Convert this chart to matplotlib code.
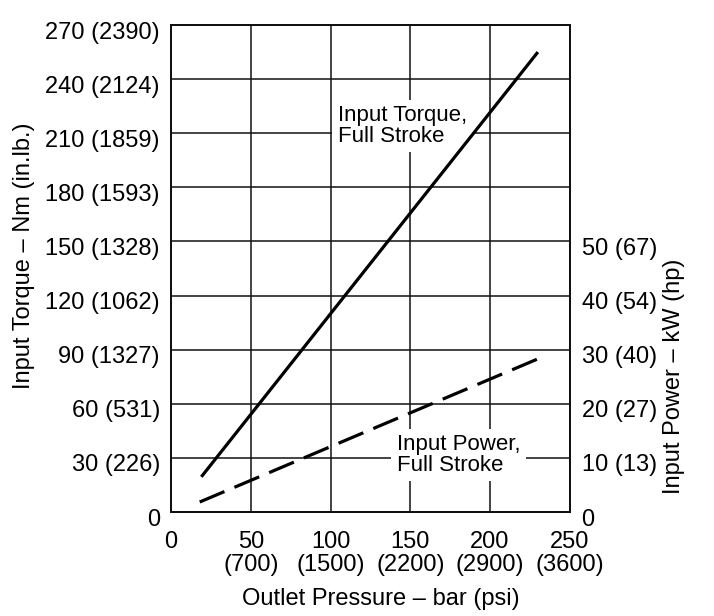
import matplotlib
matplotlib.use("Agg")
import matplotlib.pyplot as plt
import matplotlib.transforms as mtransforms

plt.rcParams.update({
    "font.family": ["Liberation Sans", "DejaVu Sans"],
    "font.size": 17,
})

# ---- data ----
BAR_TICKS = [0, 50, 100, 150, 200, 250]
PSI_LABELS = ["", "700", "1500", "2200", "2900", "3600"]
NM_TICKS = [0, 30, 60, 90, 120, 150, 180, 210, 240, 270]
INLB_LABELS = ["", "226", "531", "1327", "1062", "1328", "1593", "1859", "2124", "2390"]
KW_TICKS = [0, 10, 20, 30, 40, 50]
HP_LABELS = ["", "13", "27", "40", "54", "67"]

torque_bar = [19, 230]
torque_nm = [19.5, 255]
power_bar = [18, 230]
power_kw = [1.85, 28.3]

LW = 2.3
INK = "#111111"

fig = plt.figure(figsize=(7.14, 6.16), dpi=100)
ax = fig.add_axes([0.2395, 0.1688, 0.798 - 0.2395, 0.9594 - 0.1688])
ax2 = ax.twinx()

ax.set_xlim(0, 250)
ax.set_ylim(0, 270)
ax2.set_ylim(0, 90)

ax.set_xticks(BAR_TICKS)
ax.set_xticklabels([f"{b}\n({p})" if p else f"{b}\n" for b, p in zip(BAR_TICKS, PSI_LABELS)],
                   linespacing=1.05)
ax.set_yticks(NM_TICKS)
ax.set_yticklabels([f"{n} ({l})" if l else f"{n}" for n, l in zip(NM_TICKS, INLB_LABELS)])
ax2.set_yticks(KW_TICKS)
ax2.set_yticklabels([f"{k} ({h})" if h else f"{k}" for k, h in zip(KW_TICKS, HP_LABELS)])

ax.tick_params(axis="x", length=0, pad=14)
ax.tick_params(axis="y", length=0, pad=8)
ax2.tick_params(axis="y", length=0, pad=8.5)

# tick labels sit a few pixels below their grid lines in the reference
shift = mtransforms.ScaledTranslation(0, -5 / 100, fig.dpi_scale_trans)
for lab in ax.get_yticklabels() + ax2.get_yticklabels():
    lab.set_transform(lab.get_transform() + shift)

ax.grid(True, color=INK, linewidth=1.1)
ax.set_axisbelow(True)
for a in (ax, ax2):
    for s in a.spines.values():
        s.set_linewidth(1.4)
        s.set_color(INK)

ax.set_xlabel("Outlet Pressure – bar (psi)", fontsize=17)
ax.xaxis.set_label_coords(0.526, -0.156)
ax.set_ylabel("Input Torque – Nm (in.lb.)", fontsize=17)
ax.yaxis.set_label_coords(-0.341, 0.526)
ax2.set_ylabel("Input Power – kW (hp)", fontsize=17)
ax2.yaxis.set_label_coords(1.233, 0.279)

# curves
ax.plot(torque_bar, torque_nm, color="black", linewidth=LW, zorder=5,
        solid_capstyle="butt")
ax2.plot(power_bar, power_kw, color="black", linewidth=LW, zorder=5,
         linestyle=(0, (8.4, 3.4)), dash_capstyle="butt")

box = dict(boxstyle="square,pad=0.25", facecolor="white", edgecolor="none")
ax.text(104.6, 214, "Input Torque,\nFull Stroke", fontsize=16, ha="left",
        va="center", linespacing=0.95, bbox=box, zorder=3)
ax.text(141.6, 31.6, "Input Power,\nFull Stroke", fontsize=16, ha="left",
        va="center", linespacing=0.95, bbox=box, zorder=3)

fig.savefig("out.png", dpi=100)
